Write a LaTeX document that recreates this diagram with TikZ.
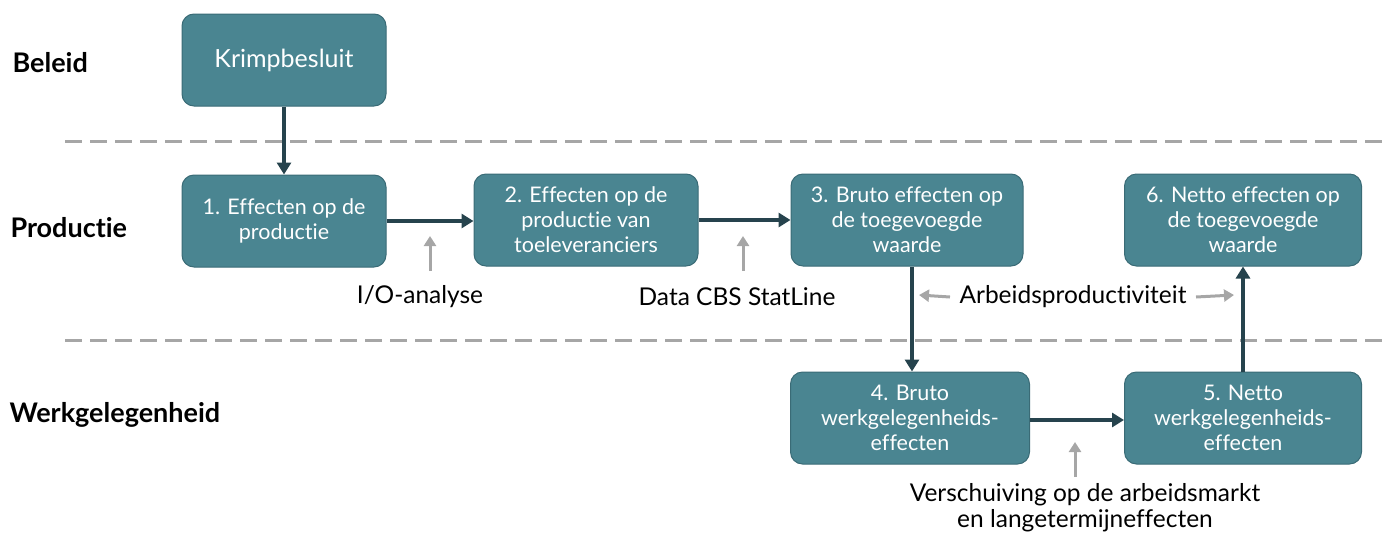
\documentclass[tikz,border=0pt]{standalone}
\usepackage{fontspec}
\setmainfont{Lato}[Ligatures=NoCommon]
\usepackage{tikz}
\usetikzlibrary{positioning,arrows.meta}
\definecolor{tealbox}{HTML}{4A8591}
\definecolor{tealline}{HTML}{3A6B76}
\definecolor{darkarrow}{HTML}{26434D}
\definecolor{lightgray}{HTML}{A6A6A6}

\begin{document}
\begin{tikzpicture}[x=1pt,y=-1pt,
                    effect/.style={rectangle,rounded corners=12pt,draw=tealline,line width=1pt,fill=tealbox,
                                   text=white,align=center,minimum height=92pt,inner sep=2pt,
                                   font=\fontsize{21.5}{25}\selectfont},
                    layer/.style={anchor=west,font=\fontsize{27}{30}\selectfont\bfseries},
                    source/.style={align=center,font=\fontsize{24.5}{26}\selectfont},
                    flow/.style={draw=darkarrow,line width=3.5pt,-{Triangle[length=12pt,width=14pt]}},
                    input/.style={draw=lightgray,line width=3pt,-{Triangle[length=10pt,width=12pt]}},
                    divider/.style={draw=lightgray,line width=3pt,dash pattern=on 17pt off 8pt}
                ]
    \useasboundingbox (0,0) rectangle (1389,536);

    % lagen
    \node[layer] (beleid) at (9,63) {Beleid};
    \node[layer] (productie) at (7,228) {Productie};
    \node[layer] (werk) at (6,415) {Werkgelegenheid};
    \draw[divider] (65,141) -- (1389,141);
    \draw[divider] (65,340) -- (1389,340);

    % stappen
    \node[effect,minimum width=204pt,font=\fontsize{25}{28}\selectfont] (krimp) at (284,60) {Krimpbesluit};
    \node[effect,minimum width=204pt] (eff1) at (284,221) {1. Effecten op de\\productie};
    \node[effect,minimum width=224pt] (eff2) at (586,220) {2. Effecten op de\\productie van\\toeleveranciers};
    \node[effect,minimum width=232pt] (eff3) at (907,220) {3. Bruto effecten op\\de toegevoegde\\waarde};
    \node[effect,minimum width=237pt] (eff6) at (1243,220) {6. Netto effecten op\\de toegevoegde\\waarde};
    \node[effect,minimum width=239pt] (eff4) at (910,418) {4. Bruto\\werkgelegenheids-\\effecten};
    \node[effect,minimum width=237pt] (eff5) at (1243,418) {5. Netto\\werkgelegenheids-\\effecten};

    % bronnen
    \node[source] (io) at (420,297) {I/O-analyse};
    \node[source] (cbs) at (737,297) {Data CBS StatLine};
    \node[source] (arbeid) at (1073,297) {Arbeidsproductiviteit};
    \node[source] (markt) at (1085,508) {Verschuiving op de arbeidsmarkt\\en langetermijneffecten};

    % stroom
    \draw[flow] (krimp) -- (eff1);
    \draw[flow] (eff1.east |- 0,221) -- (eff2.west |- 0,221);
    \draw[flow] (eff2) -- (eff3);
    \draw[flow] (eff3.south -| 912,0) -- (eff4.north -| 912,0);
    \draw[flow] (eff4.east |- 0,420) -- (eff5.west |- 0,420);
    \draw[flow] (eff5) -- (eff6);

    % invoer
    \coordinate (ioA) at (430,271);   \coordinate (ioB) at (430,236);
    \coordinate (cbsA) at (743,271);  \coordinate (cbsB) at (743,236);
    \coordinate (mA) at (1075,477);   \coordinate (mB) at (1075,442);
    \draw[input] (ioA) -- (ioB);
    \draw[input] (cbsA) -- (cbsB);
    \draw[input] (mA) -- (mB);
    \draw[input] (arbeid.west) ++(-6,0) coordinate (arbL) -- (919,295);
    \draw[input] (arbeid.east) ++(6,0) coordinate (arbR) -- (1234,295);
\end{tikzpicture}
\end{document}
